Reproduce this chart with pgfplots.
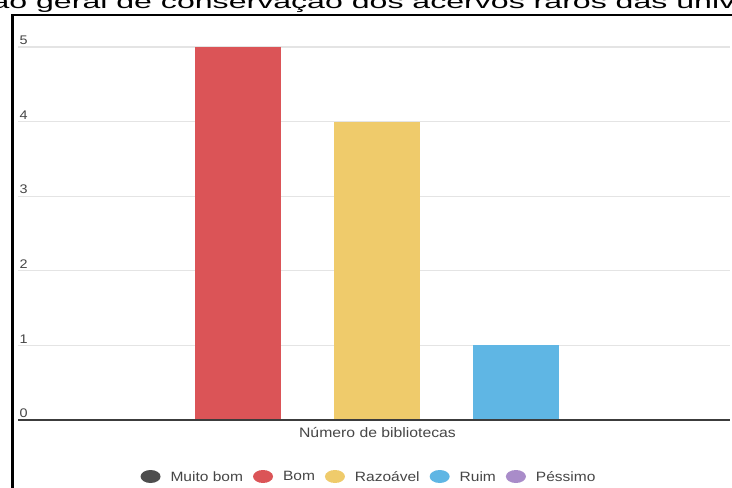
\documentclass[border=0pt]{standalone}
\usepackage{fontspec}
\setmainfont{Liberation Sans}
\newfontfamily\titlefont[FakeStretch=1.68]{Liberation Sans}
\newfontfamily\chartfont[FakeStretch=1.15]{Liberation Sans}
\usepackage{pgfplots}
\pgfplotsset{compat=1.18}
\definecolor{cDark}{RGB}{77,77,77}
\definecolor{cRed}{RGB}{219,84,87}
\definecolor{cYellow}{RGB}{239,203,107}
\definecolor{cBlue}{RGB}{95,182,228}
\definecolor{cPurple}{RGB}{169,140,201}
\definecolor{cGrid}{RGB}{228,228,228}
\definecolor{cText}{RGB}{70,70,70}
\definecolor{cBase}{RGB}{60,60,60}
\begin{document}
\begin{tikzpicture}[x=1pt,y=1pt]
\useasboundingbox (0,0) rectangle (732,488);
\clip (0,0) rectangle (732,488);
\fill[white] (0,0) rectangle (732,488);
\node[anchor=base west, inner sep=0pt, font=\titlefont\fontsize{19.1}{19.1}\selectfont] at (36,479) {\llap{Avaliação }geral de conservação dos acervos raros das universidades};
\draw[line width=2.8pt] (12.5,-10) -- (12.5,473) -- (745,473);
\begin{axis}[at={(18pt,68pt)}, anchor=south west, scale only axis,
  width=712pt, height=373pt,
  xmin=0.4173, xmax=5.5396, ymin=0, ymax=5,
  axis line style={draw=none},
  ytick={0,1,2,3,4,5}, xtick=\empty,
  ymajorgrids, grid style={cGrid, line width=1.3pt},
  major tick length=0pt,
  yticklabel style={anchor=south west, xshift=0.5pt, yshift=1pt, inner sep=1pt,
     font=\chartfont\fontsize{12.5}{12.5}\selectfont, text=cText},
  /pgf/number format/assume math mode=true,
  xlabel={Número de bibliotecas},
  xlabel style={at={(axis description cs:0.5,0)}, anchor=base, yshift=-17pt, xshift=3.5pt,
     font=\chartfont\fontsize{13.7}{13.7}\selectfont, text=cText},
  leg/.style={legend image code/.code={\fill[#1] (10pt,0.5pt) ellipse (10pt and 6.5pt);}},
  legend columns=5,
  legend style={at={(axis description cs:0.5,0)}, anchor=center, yshift=-57pt, xshift=-5pt,
     draw=none, fill=none, font=\chartfont\fontsize{13.5}{13.5}\selectfont, text=cText,
     /tikz/every odd column/.append style={column sep=8pt},
     /tikz/every even column/.append style={column sep=8pt}},
]
\addplot[ybar, bar width=86pt, bar shift=0pt, fill=cDark, draw=none, leg=cDark] coordinates {(1,0)};
\addlegendentry{Muito bom}
\addplot[ybar, bar width=86pt, bar shift=0pt, fill=cRed, draw=none, leg=cRed] coordinates {(2,5)};
\addlegendentry{Bom}
\addplot[ybar, bar width=86pt, bar shift=0pt, fill=cYellow, draw=none, leg=cYellow] coordinates {(3,4)};
\addlegendentry{Razoável}
\addplot[ybar, bar width=86pt, bar shift=0pt, fill=cBlue, draw=none, leg=cBlue] coordinates {(4,1)};
\addlegendentry{Ruim}
\addplot[ybar, bar width=86pt, bar shift=0pt, fill=cPurple, draw=none, leg=cPurple] coordinates {(5,0)};
\addlegendentry{Péssimo}
\draw[cBase, line width=1.5pt] (rel axis cs:0,0) -- (rel axis cs:1,0);
\end{axis}
\end{tikzpicture}
\end{document}
